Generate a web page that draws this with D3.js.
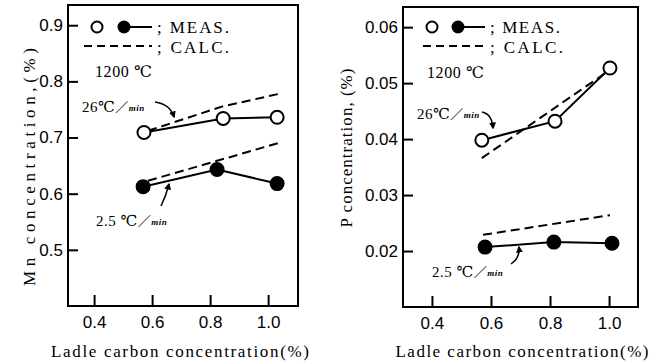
<!DOCTYPE html>
<html>
<head>
<meta charset="utf-8">
<script src="https://cdn.jsdelivr.net/npm/d3@7"></script>
<style>
  body { margin: 0; background: #fff; }
  svg text { font-family: "Liberation Serif", "DejaVu Serif", serif; fill: #000; }
</style>
</head>
<body>
<svg id="chart" width="663" height="363"></svg>
<script>
// ladle carbon ticks (shared)
const xTicks = [0.4, 0.6, 0.8, 1.0];

// Mn panel
const mnTicks = [0.5, 0.6, 0.7, 0.8, 0.9];
const mnFastC = [0.572, 0.845, 1.031];
const mnFastMeas = [0.709, 0.734, 0.736];
const mnFastCalcC = [0.586, 0.84, 1.048];
const mnFastCalc = [0.712, 0.755, 0.779];
const mnSlowC = [0.569, 0.824, 1.031];
const mnSlowMeas = [0.6125, 0.643, 0.618];
const mnSlowCalcC = [0.586, 1.041];
const mnSlowCalc = [0.623, 0.691];

// P panel
const pTicks = [0.02, 0.03, 0.04, 0.05, 0.06];
const pFastC = [0.569, 0.817, 1.003];
const pFastMeas = [0.0398, 0.0432, 0.0527];
const pFastCalcC = [0.569, 0.993];
const pFastCalc = [0.0366, 0.052];
const pSlowC = [0.58, 0.813, 1.01];
const pSlowMeas = [0.0207, 0.0216, 0.0214];
const pSlowCalcC = [0.573, 1.003];
const pSlowCalc = [0.0229, 0.0264];

const svg = d3.select("#chart");

svg.append("defs").append("marker")
  .attr("id", "arrowhead")
  .attr("viewBox", "0 0 10 10")
  .attr("refX", 8).attr("refY", 5)
  .attr("markerWidth", 7).attr("markerHeight", 7)
  .attr("markerUnits", "userSpaceOnUse")
  .attr("orient", "auto")
  .append("path")
  .attr("d", "M0,0 L10,5 L0,10 z")
  .attr("fill", "#000");

function zip(a, b) {
  return a.map(function (d, i) { return [d, b[i]]; });
}

// text stretched to the width it has in the scan
function wideText(g, x, y, size, str, len) {
  return g.append("text")
    .attr("x", x).attr("y", y)
    .attr("font-size", size)
    .attr("textLength", len)
    .attr("lengthAdjust", "spacing")
    .text(str);
}

function drawPanel(p) {
  var x = d3.scaleLinear().domain(p.xDomain).range([p.left, p.right]);
  var y = d3.scaleLinear().domain(p.yDomain).range([p.bottom, p.top]);
  var g = svg.append("g");

  // frame
  g.append("rect")
    .attr("x", p.left).attr("y", p.top)
    .attr("width", p.right - p.left).attr("height", p.bottom - p.top)
    .attr("fill", "none").attr("stroke", "#000").attr("stroke-width", 2);

  // axes with inward ticks
  var ax = g.append("g")
    .attr("transform", "translate(0," + p.bottom + ")")
    .call(d3.axisBottom(x).tickValues(xTicks).tickSize(-11).tickPadding(7)
      .tickFormat(d3.format(".1f")));
  var ay = g.append("g")
    .attr("transform", "translate(" + p.left + ",0)")
    .call(d3.axisLeft(y).tickValues(p.yTicks).tickSize(-10).tickPadding(5)
      .tickFormat(d3.format(p.yFormat)));
  [ax, ay].forEach(function (a) {
    a.select(".domain").remove();
    a.selectAll(".tick line").attr("stroke", "#000").attr("stroke-width", 2);
    a.selectAll(".tick text")
      .attr("font-size", 17)
      .style("font-family", "'Liberation Sans', Arial, sans-serif");
  });
  ax.selectAll(".tick text").attr("dy", "0.9em");

  // axis titles
  wideText(g, p.xTitleX, 357, 17, p.xTitle, p.xTitleLen)
    .attr("text-anchor", "middle");
  wideText(g, 0, 0, 17, p.yTitle, p.yTitleLen)
    .attr("text-anchor", "middle")
    .attr("transform", "translate(" + p.yTitleX + "," + p.yTitleY + ") rotate(-90)");

  var line = d3.line().x(function (d) { return x(d[0]); }).y(function (d) { return y(d[1]); });

  // calculated (dashed)
  p.calc.forEach(function (s) {
    g.append("path").datum(s)
      .attr("d", line).attr("fill", "none")
      .attr("stroke", "#000").attr("stroke-width", 2)
      .attr("stroke-dasharray", "9,5");
  });

  // measured (solid + markers)
  p.meas.forEach(function (s) {
    g.append("path").datum(s.pts)
      .attr("d", line).attr("fill", "none")
      .attr("stroke", "#000").attr("stroke-width", 2);
    g.selectAll(null).data(s.pts).enter().append("circle")
      .attr("cx", function (d) { return x(d[0]); })
      .attr("cy", function (d) { return y(d[1]); })
      .attr("r", 6.5)
      .attr("fill", s.filled ? "#000" : "#fff")
      .attr("stroke", "#000").attr("stroke-width", 2);
  });

  // legend
  var lg = p.legend;
  g.append("circle").attr("cx", lg.x0).attr("cy", lg.y1).attr("r", 5.5)
    .attr("fill", "#fff").attr("stroke", "#000").attr("stroke-width", 2);
  g.append("circle").attr("cx", lg.x1).attr("cy", lg.y1).attr("r", 6.5)
    .attr("fill", "#000");
  g.append("line").attr("x1", lg.x1).attr("x2", lg.x2)
    .attr("y1", lg.y1).attr("y2", lg.y1)
    .attr("stroke", "#000").attr("stroke-width", 2);
  g.append("line").attr("x1", lg.xd).attr("x2", lg.x2)
    .attr("y1", lg.y2).attr("y2", lg.y2)
    .attr("stroke", "#000").attr("stroke-width", 2)
    .attr("stroke-dasharray", "8,5");
  wideText(g, lg.x2 + 5, lg.y1 + 6, 17, "; MEAS.", lg.measLen);
  wideText(g, lg.x2 + 5, lg.y2 + 7, 17, "; CALC.", lg.calcLen);
  wideText(g, lg.tx, lg.ty, 16, "1200 ℃", 57);

  // rate annotations
  p.notes.forEach(function (n) {
    var t = g.append("text").attr("x", n.x).attr("y", n.y).attr("font-size", 15)
      .attr("letter-spacing", 0.5);
    t.append("tspan").text(n.label);
    t.append("tspan").attr("font-size", 13)
      .style("font-family", "'Noto Sans CJK JP', sans-serif").text("／");
    t.append("tspan").attr("font-size", 9).attr("font-style", "italic")
      .attr("font-weight", "bold").attr("dy", -1).text("min");
    g.append("path")
      .attr("d", "M" + n.a[0] + "," + n.a[1] + " Q" + n.a[2] + "," + n.a[3] + " " + n.a[4] + "," + n.a[5])
      .attr("fill", "none").attr("stroke", "#000").attr("stroke-width", 1.5)
      .attr("marker-end", "url(#arrowhead)");
  });
}

drawPanel({
  left: 68, right: 298, top: 5, bottom: 306,
  xDomain: [0.31, 1.103], yDomain: [0.4, 0.936],
  yTicks: mnTicks, yFormat: ".1f",
  xTitle: "Ladle carbon  concentration(%)", xTitleX: 180, xTitleLen: 258,
  yTitle: "Mn  concentration,(%)", yTitleX: 35, yTitleY: 167, yTitleLen: 238,
  calc: [zip(mnFastCalcC, mnFastCalc), zip(mnSlowCalcC, mnSlowCalc)],
  meas: [
    { pts: zip(mnFastC, mnFastMeas), filled: false },
    { pts: zip(mnSlowC, mnSlowMeas), filled: true }
  ],
  legend: { x0: 97, x1: 124, x2: 152, xd: 84, y1: 27, y2: 46, tx: 95, ty: 77,
    measLen: 72, calcLen: 72 },
  notes: [
    { label: "26℃", x: 82, y: 112, a: [155, 102, 170, 104, 174, 117] },
    { label: "2.5 ℃", x: 96, y: 226, a: [161, 206, 166, 196, 169, 184] }
  ]
});

drawPanel({
  left: 403, right: 638, top: 7, bottom: 307,
  xDomain: [0.302, 1.098], yDomain: [0.01, 0.0636],
  yTicks: pTicks, yFormat: ".2f",
  xTitle: "Ladle carbon concentration(%)", xTitleX: 522, xTitleLen: 253,
  yTitle: "P concentration, (%)", yTitleX: 352, yTitleY: 148, yTitleLen: 159,
  calc: [zip(pFastCalcC, pFastCalc), zip(pSlowCalcC, pSlowCalc)],
  meas: [
    { pts: zip(pFastC, pFastMeas), filled: false },
    { pts: zip(pSlowC, pSlowMeas), filled: true }
  ],
  legend: { x0: 432, x1: 458, x2: 485, xd: 423, y1: 27, y2: 46, tx: 427, ty: 78,
    measLen: 70, calcLen: 73 },
  notes: [
    { label: "26℃", x: 417, y: 119, a: [482, 112, 492, 114, 493, 128] },
    { label: "2.5 ℃", x: 432, y: 277, a: [511, 264, 520, 258, 519, 247] }
  ]
});
</script>
</body>
</html>
